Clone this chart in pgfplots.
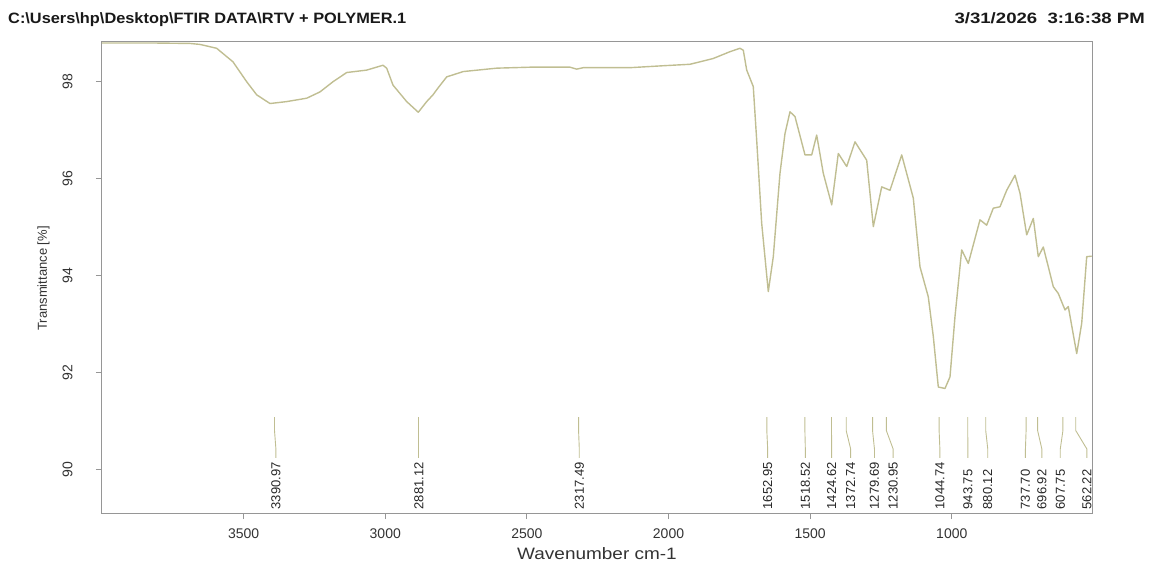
\documentclass[border=0pt]{standalone}
\usepackage{fontspec}
\setmainfont{Liberation Sans}
\usepackage{graphicx}
\usepackage{pgfplots}
\pgfplotsset{compat=1.18}
\definecolor{spec}{RGB}{192,190,146}
\definecolor{framec}{RGB}{150,150,150}
\newcommand\peak[3]{%
  \addplot[spec, line width=0.9pt] coordinates {(#1,91.08) (#1,90.8) (#2,90.42) (#2,90.24)};
  \node[rotate=90, anchor=west, inner sep=0pt, font=\fontsize{13}{15}\selectfont, text=black!85] at (axis cs:#2,89.17) {#3};
}
\begin{document}
\begin{tikzpicture}[x=1pt,y=1pt]
\begin{axis}[
  name=ax,
  width=990pt, height=471pt, scale only axis,
  x dir=reverse, xmin=505, xmax=4000, ymin=89.1, ymax=98.82,
  xtick={1000,1500,2000,2500,3000,3500}, ytick={90,92,94,96,98},
  xtick pos=bottom, ytick pos=left,
  tick align=outside, major tick length=6pt,
  tick style={framec, line width=0.8pt},
  axis line style={framec, line width=1pt},
  /pgf/number format/assume math mode=true,
  /pgf/number format/1000 sep={},
  ticklabel style={font=\fontsize{14}{16}\selectfont, text=black!80},
  yticklabel style={rotate=90, anchor=south},
  yticklabel shift=20pt,
  xticklabel shift=6pt,
  xlabel={\scalebox{1.15}[1]{Wavenumber cm-1}}, ylabel={Transmittance [\%]},
  xlabel style={at={(axis description cs:0.5,-0.087)}, anchor=center, font=\fontsize{16.5}{18}\selectfont, text=black!80},
  ylabel style={at={(axis description cs:-0.0591,0.498)}, anchor=center, font=\fontsize{13}{15}\selectfont, text=black!80},
]
\addplot[spec, line width=1.4pt, line join=round] coordinates {
(4000,98.80) (3830.5,98.80) (3689.3,98.79) (3654.0,98.77) (3595.1,98.69)
(3537.5,98.41) (3489.2,98.00) (3453.9,97.73) (3406.9,97.55) (3348.0,97.59)
(3277.3,97.66) (3230.4,97.79) (3184.5,98.00) (3136.1,98.19) (3065.5,98.24)
(3008.0,98.34) (2994.9,98.28) (2972.7,97.93) (2924.3,97.59) (2883.4,97.37)
(2853.7,97.59) (2831.5,97.73) (2813.8,97.87) (2783.1,98.10) (2724.5,98.21)
(2606.6,98.28) (2489.0,98.30) (2347.8,98.30) (2324.2,98.26) (2300.9,98.29)
(2136.0,98.29) (2018.5,98.33) (1924.2,98.36) (1841.9,98.48) (1783.0,98.62)
(1747.7,98.69) (1736.0,98.65) (1724.0,98.24) (1700.8,97.90) (1688.8,96.80)
(1671.1,95.08) (1647.8,93.67) (1630.1,94.39) (1606.5,96.11) (1588.8,96.93)
(1571.2,97.38) (1553.5,97.28) (1518.2,96.49) (1494.5,96.49) (1476.9,96.90)
(1453.6,96.11) (1423.9,95.46) (1400.6,96.52) (1371.0,96.25) (1341.7,96.76)
(1312.4,96.49) (1300.4,96.38) (1277.0,95.01) (1247.4,95.83) (1218.1,95.76)
(1176.8,96.49) (1135.9,95.60) (1112.2,94.18) (1082.9,93.56) (1065.2,92.74)
(1047.6,91.70) (1024.0,91.67) (1006.3,91.91) (988.7,93.15) (965.0,94.53)
(941.7,94.25) (900.4,95.15) (876.8,95.04) (853.5,95.39) (829.8,95.42)
(806.1,95.76) (776.8,96.07) (759.2,95.70) (735.5,94.84) (712.2,95.18)
(694.6,94.39) (676.9,94.59) (641.6,93.77) (624.0,93.63) (600.3,93.29)
(588.7,93.36) (559.0,92.39) (541.4,93.01) (523.7,94.39) (506.1,94.40)
};
\peak{3390.97}{3386}{3390.97}
\peak{2881.12}{2881.12}{2881.12}
\peak{2317.49}{2315}{2317.49}
\peak{1652.95}{1650}{1652.95}
\peak{1518.52}{1517}{1518.52}
\peak{1424.62}{1424}{1424.62}
\peak{1372.74}{1357}{1372.74}
\peak{1279.69}{1273}{1279.69}
\peak{1230.95}{1207}{1230.95}
\peak{1044.74}{1042}{1044.74}
\peak{943.75}{943}{943.75}
\peak{880.12}{873}{880.12}
\peak{737.70}{740}{737.70}
\peak{696.92}{682}{696.92}
\peak{607.75}{617}{607.75}
\peak{562.22}{523}{562.22}
\end{axis}
\begin{scope}[shift={(ax.south west)}]
\path (-102,-49) rectangle (1048,513);
\node[anchor=base west, font=\fontsize{15}{18}\bfseries\selectfont, inner sep=0pt, text=black!90] at (-94,489.5) {\scalebox{1.09}[1]{C:\textbackslash Users\textbackslash hp\textbackslash Desktop\textbackslash FTIR DATA\textbackslash RTV + POLYMER.1}};
\node[anchor=base east, font=\fontsize{15}{18}\bfseries\selectfont, inner sep=0pt, text=black!90] at (1043,489.5) {\scalebox{1.24}[1]{3/31/2026\ \ 3:16:38 PM}};
\end{scope}
\end{tikzpicture}
\end{document}
